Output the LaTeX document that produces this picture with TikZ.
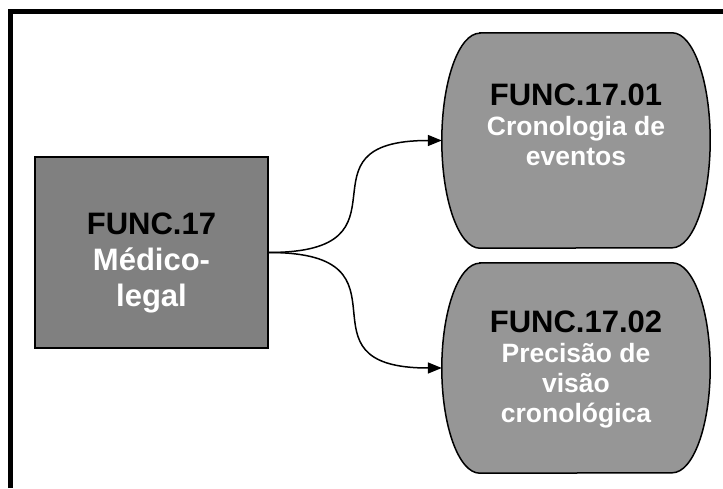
\documentclass[tikz,border=0pt]{standalone}
\usepackage{fontspec}
\setmainfont{Liberation Sans}
\usetikzlibrary{arrows.meta, positioning}
\definecolor{grigioScuro}{RGB}{128,128,128}
\definecolor{grigioChiaro}{RGB}{150,150,150}
\newcommand{\codice}[1]{\textcolor{black}{\fontsize{31}{31}\selectfont #1}}
\tikzset{
  testo/.style={align=center, text=white, font=\bfseries\fontsize{26.5}{30}\selectfont},
  foglia/.style={minimum width=268pt, inner sep=0pt},
  bordo/.style={draw=black, line width=1.5pt},
  freccia/.style={line width=1.5pt, -{Triangle[length=14pt, width=11pt]}}
}

\begin{document}
\begin{tikzpicture}[x=1pt, y=1pt]
    \pgfmathsetmacro{\larg}{723}
    \pgfmathsetmacro{\alt}{488}
    \pgfmathsetmacro{\rx}{38}
    \useasboundingbox (0,0) rectangle (\larg,\alt);
    % Cornice
    \draw[line width=4.5pt] (10.5,0) -- (10.5,476.5) -- (\larg,476.5);
    % Nodi
    \node[bordo, fill=grigioScuro, minimum width=233pt, minimum height=191pt] (func) at (151.5,235.5) {};
    \node[foglia, minimum height=215pt] (f1) at (576,347.5) {};
    \node[foglia, minimum height=210pt] (f2) at (576,120) {};
    \foreach \f/\ry in {f1/107.5, f2/105}
        \draw[bordo, fill=grigioChiaro] ([xshift=\rx]\f.north west) -- ([xshift=-\rx]\f.north east)
            arc[start angle=90, end angle=-90, x radius=\rx, y radius=\ry]
            -- ([xshift=\rx]\f.south west)
            arc[start angle=270, end angle=90, x radius=\rx, y radius=\ry] -- cycle;
    % Frecce
    \draw[freccia] (func.east) to[out=0, in=180, looseness=1.9] (f1.west);
    \draw[freccia] (func.east) to[out=0, in=180, looseness=1.9] (f2.west);
    % Testi
    \node[testo, font=\bfseries\fontsize{31}{36}\selectfont] (funcT) at (151.5,225) {\codice{FUNC.17}\\Médico-\\legal};
    \node[testo] (f1T) at (576,363) {\codice{FUNC.17.01}\\Cronologia de\\eventos};
    \node[testo] (f2T) at (576,118.5) {\codice{FUNC.17.02}\\Precisão de\\visão\\cronológica};
\end{tikzpicture}
\end{document}
